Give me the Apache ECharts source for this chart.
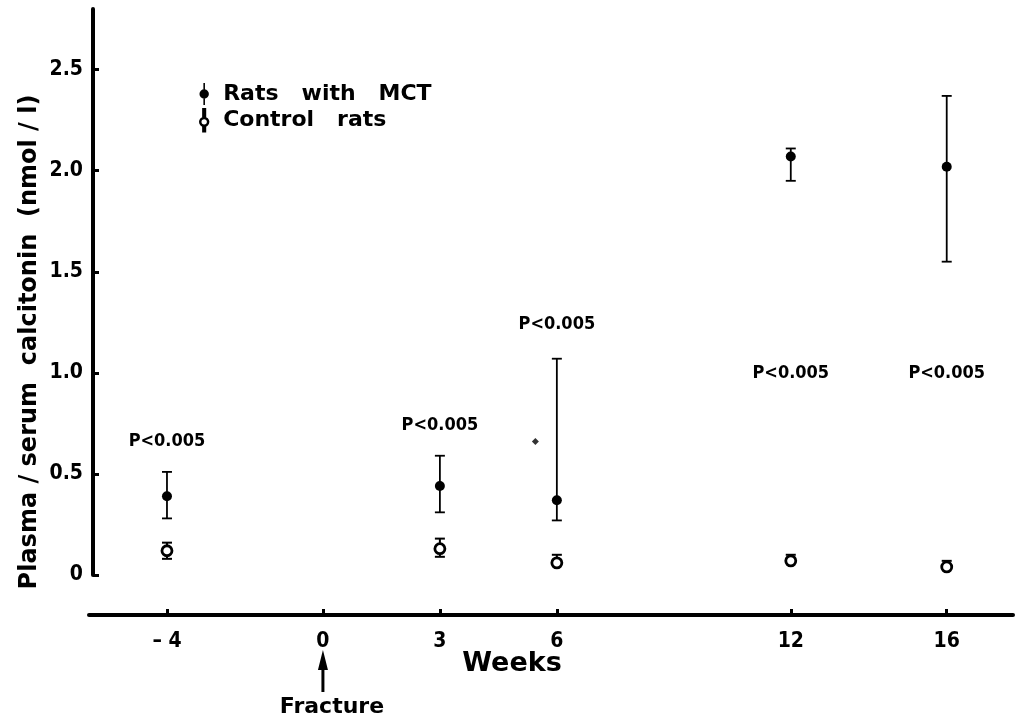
<!DOCTYPE html>
<html>
<head>
<meta charset="utf-8">
<script src="https://cdn.jsdelivr.net/npm/echarts@6/dist/echarts.min.js"></script>
<style>
  html, body { margin: 0; padding: 0; background: #fff; }
  #chart { width: 1023px; height: 721px; }
</style>
</head>
<body>
<div id="chart"></div>
<script>
// weeks relative to fracture
const weeks = [-4, 3, 6, 12, 16];
// rats with MCT (mean, lower and upper end of bar)
const mctMean = [0.39, 0.44, 0.37, 2.07, 2.02];
const mctLow  = [0.28, 0.31, 0.27, 1.95, 1.55];
const mctHigh = [0.51, 0.59, 1.07, 2.11, 2.37];
// control rats
const ctrlMean = [0.12, 0.13, 0.06, 0.07, 0.04];
const ctrlLow  = [0.08, 0.09, 0.06, 0.07, 0.04];
const ctrlHigh = [0.16, 0.18, 0.10, 0.10, 0.07];
// significance labels
const pWeeks = [-4, 3, 6, 12, 16];
const pLevel = [0.66, 0.74, 1.24, 1.0, 1.0];
const pText = 'P<0.005';
// stray dot in the print
const strayDot = [[5.45, 0.66]];
// tick labels
const xTicks = [-4, 0, 3, 6, 12, 16];
const yTicks = [0, 0.5, 1.0, 1.5, 2.0, 2.5];

const FONT = '"DejaVu Sans Condensed", "Liberation Sans Narrow", "Liberation Sans", sans-serif';
const FONT_W = '"DejaVu Sans", "Liberation Sans", Arial, sans-serif';

let chart = echarts.init(document.getElementById('chart'));

function errBar(lineW) {
  return function (params, api) {
    let x = api.value(0);
    let top = api.coord([x, api.value(2)]);
    let bot = api.coord([x, api.value(1)]);
    let w = 5;
    let st = { stroke: '#000', lineWidth: lineW };
    return {
      type: 'group',
      children: [
        { type: 'line', shape: { x1: top[0], y1: top[1], x2: bot[0], y2: bot[1] }, style: st },
        { type: 'line', shape: { x1: top[0] - w, y1: top[1], x2: top[0] + w, y2: top[1] }, style: st },
        { type: 'line', shape: { x1: bot[0] - w, y1: bot[1], x2: bot[0] + w, y2: bot[1] }, style: st }
      ]
    };
  };
}

let option = {
  animation: false,
  grid: { left: 89, right: 10, top: 9, bottom: 146 },
  legend: {
    left: 194,
    top: 78,
    orient: 'vertical',
    itemGap: 3,
    itemWidth: 12,
    itemHeight: 22,
    textStyle: { fontFamily: FONT_W, fontWeight: 'bold', fontSize: 22, lineHeight: 22, color: '#000', padding: [0, 0, 0, 8] },
    data: [
      { name: 'Rats   with   MCT', icon: 'path://M5,0 L7,0 L7,28 L5,28 Z M6,8 A6,6 0 1 1 6,20 A6,6 0 1 1 6,8 Z', itemStyle: { color: '#000' } },
      { name: 'Control   rats', icon: 'path://M5,0 L7,0 L7,10 L5,10 Z M6,11 A5,5 0 1 1 6,21 A5,5 0 1 1 6,11 Z M5,22 L7,22 L7,28 L5,28 Z', itemStyle: { color: '#fff', borderColor: '#000', borderWidth: 2.5 } }
    ]
  },
  xAxis: {
    type: 'value',
    min: -6,
    max: 17.7,
    offset: 40,
    splitLine: { show: false },
    axisLine: { onZero: false, lineStyle: { color: '#000', width: 4 } },
    axisTick: { show: true, inside: true, length: 6, lineStyle: { color: '#000', width: 3 }, customValues: xTicks },
    axisLabel: {
      customValues: xTicks,
      margin: 16,
      color: '#000',
      fontFamily: FONT,
      fontWeight: 'bold',
      fontSize: 21,
      formatter: v => v < 0 ? '\u2013 ' + Math.abs(v) : String(v)
    }
  },
  yAxis: {
    type: 'value',
    min: 0,
    max: 2.8,
    offset: -4,
    splitLine: { show: false },
    axisLine: { show: true, onZero: false, lineStyle: { color: '#000', width: 4 } },
    axisTick: { show: true, inside: true, length: 6, lineStyle: { color: '#000', width: 3 }, customValues: yTicks },
    axisLabel: {
      customValues: yTicks,
      margin: 10,
      color: '#000',
      fontFamily: FONT,
      fontWeight: 'bold',
      fontSize: 21,
      formatter: v => v === 0 ? '0' : v.toFixed(1)
    }
  },
  series: [
    {
      name: 'mctBars',
      type: 'custom',
      renderItem: errBar(1.8),
      data: weeks.map((w, i) => [w, mctLow[i], mctHigh[i]]),
      z: 2
    },
    {
      name: 'ctrlBars',
      type: 'custom',
      renderItem: errBar(2),
      data: weeks.map((w, i) => [w, ctrlLow[i], ctrlHigh[i]]),
      z: 2
    },
    {
      name: 'Rats   with   MCT',
      type: 'scatter',
      symbol: 'circle',
      symbolSize: 10,
      itemStyle: { color: '#000', opacity: 1 },
      data: weeks.map((w, i) => [w, mctMean[i]]),
      z: 3
    },
    {
      name: 'Control   rats',
      type: 'scatter',
      symbol: 'circle',
      symbolSize: 10,
      itemStyle: { color: '#fff', borderColor: '#000', borderWidth: 2.8, opacity: 1 },
      data: weeks.map((w, i) => [w, ctrlMean[i]]),
      z: 3
    },
    {
      name: 'stray',
      type: 'scatter',
      symbol: 'diamond',
      symbolSize: 7,
      itemStyle: { color: '#000' },
      data: strayDot
    },
    {
      name: 'pvalues',
      type: 'scatter',
      symbolSize: 0,
      silent: true,
      itemStyle: { opacity: 1 },
      label: {
        show: true,
        position: 'inside',
        formatter: pText,
        color: '#000',
        opacity: 1,
        fontFamily: FONT,
        fontWeight: 'bold',
        fontSize: 18
      },
      data: pWeeks.map((w, i) => [w, pLevel[i]])
    }
  ]
};

chart.setOption(option);

// text and arrow around the axes, placed from the axis scale
let p0 = chart.convertToPixel({ xAxisIndex: 0, yAxisIndex: 0 }, [0, 0]);
chart.setOption({
  graphic: [
    {
      type: 'text',
      x: 512, y: 664,
      style: { text: 'Weeks', fontFamily: FONT_W, fontWeight: 'bold', fontSize: 27, fill: '#000', align: 'center', verticalAlign: 'middle' }
    },
    {
      type: 'text',
      x: p0[0] + 9, y: 707,
      style: { text: 'Fracture', fontFamily: FONT_W, fontWeight: 'bold', fontSize: 22, fill: '#000', align: 'center', verticalAlign: 'middle' }
    },
    {
      type: 'line',
      shape: { x1: p0[0], y1: 692, x2: p0[0], y2: 664 },
      style: { stroke: '#000', lineWidth: 3 }
    },
    {
      type: 'polygon',
      shape: { points: [[p0[0], 650], [p0[0] - 5, 670], [p0[0] + 5, 670]] },
      style: { fill: '#000' }
    },
    {
      type: 'text',
      x: 30, y: 342,
      rotation: Math.PI / 2,
      style: {
        text: 'Plasma / serum  calcitonin  (nmol / l)',
        fontFamily: FONT_W, fontWeight: 'bold', fontSize: 24, fill: '#000',
        align: 'center', verticalAlign: 'middle'
      }
    }
  ]
});
</script>
</body>
</html>
